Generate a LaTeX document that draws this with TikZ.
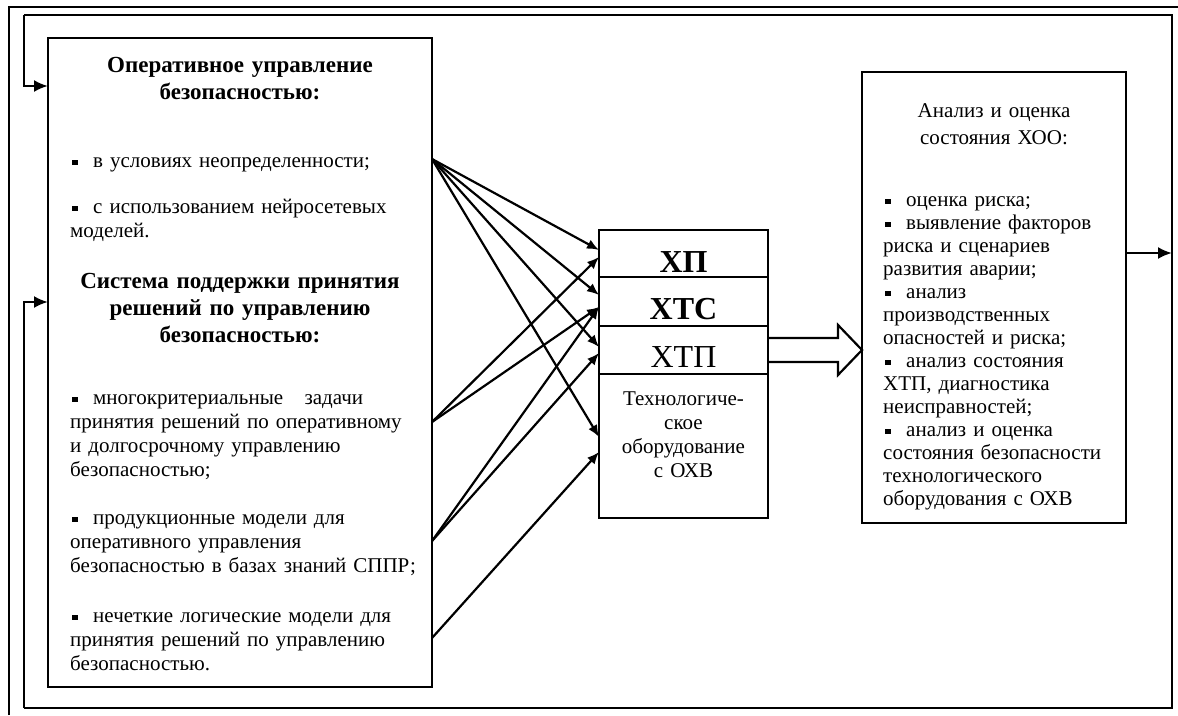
\documentclass[tikz,border=0pt]{standalone}
\usepackage{fontspec}
\setmainfont{Liberation Serif}
\usetikzlibrary{arrows.meta,positioning,calc}
\newcommand{\sq}{\hspace*{2pt}\rule[2pt]{5.5pt}{5.5pt}\hspace*{15.5pt}}

\begin{document}
\begin{tikzpicture}[x=1pt,y=-1pt,>={Latex[length=14pt,width=12pt]},
	box/.style={draw, line width=2.2pt, inner sep=0pt, outer sep=0pt},
	ln/.style={line width=2.2pt},
	ar/.style={line width=2.2pt, -{Latex[length=12pt,width=10pt]}},
	hd/.style={font=\fontsize{23}{27}\selectfont\bfseries, align=center, text width=380pt, inner sep=0pt, anchor=base},
	tx/.style={font=\fontsize{21}{24}\selectfont, align=left, text width=355pt, inner sep=0pt, anchor=base west},
	rtx/.style={font=\fontsize{21}{23}\selectfont, align=left, text width=240pt, inner sep=0pt, anchor=base west},
	big/.style={font=\fontsize{32}{34}\selectfont, inner sep=0pt, anchor=base}]
	\useasboundingbox (0,0) rectangle (1178,715);
	\draw[line width=2.8pt] (9,715) -- (9,7) -- (1178,7);

	% boxes
	\node[box, minimum width=384pt, minimum height=649pt, anchor=north west] (lb) at (48,38) {};
	\node[box, minimum width=264pt, minimum height=451pt, anchor=north west] (an) at (862,72) {};
	\node[box, minimum width=169pt, minimum height=47pt, anchor=north west] (xp) at (599,230) {};
	\node[box, minimum width=169pt, minimum height=49pt, below=0pt of xp] (xts) {};
	\node[box, minimum width=169pt, minimum height=48pt, below=0pt of xts] (xtp) {};
	\node[box, minimum width=169pt, minimum height=144pt, below=0pt of xtp] (eq) {};

	% left box text
	\node[hd] (h1) at (240,72) {Оперативное управление\\безопасностью:};
	\node[tx] (b1) at (70,167) {\sq в условиях неопределенности;};
	\node[tx] (b2) at (70,213) {\sq с использованием нейросетевых\\моделей.};
	\node[hd] (h2) at (240,288) {Система поддержки принятия\\решений по управлению\\безопасностью:};
	\node[tx] (b3) at (70,404) {\makebox[293pt][l]{\sq многокритериальные\hfill задачи}\\
		\makebox[340pt][s]{принятия решений по оперативному}\\
		\makebox[285pt][s]{и долгосрочному управлению}\\безопасностью;};
	\node[tx] (b4) at (70,524) {\sq продукционные модели для\\оперативного управления\\безопасностью в базах знаний СППР;};
	\node[tx] (b5) at (70,622) {\sq нечеткие логические модели для\\принятия решений по управлению\\безопасностью.};

	% middle box text
	\node[big] (t1) at (683.5,272) {\textbf{ХП}};
	\node[big] (t2) at (683.5,319) {\textbf{ХТС}};
	\node[big] (t3) at (683.5,367) {ХТП};
	\node[font=\fontsize{21}{24.3}\selectfont, align=center, text width=160pt, inner sep=0pt, anchor=base] (t4) at (683.5,405) {Технологиче-\\ское\\оборудование\\с ОХВ};

	% right box text
	\node[font=\fontsize{21}{27}\selectfont, align=center, text width=250pt, inner sep=0pt, anchor=base] (ah) at (994,117) {Анализ и оценка\\состояния ХОО:};
	\node[rtx] (ab) at (883,206) {\sq оценка риска;\\\sq выявление факторов\\риска и сценариев\\развития аварии;\\\sq анализ\\производственных\\опасностей и риска;\\\sq анализ состояния\\ХТП, диагностика\\неисправностей;\\\sq анализ и оценка\\состояния безопасности\\технологического\\оборудования с ОХВ};

	% arrows to the equipment
	\coordinate (s1) at (432,159);
	\coordinate (s2) at (432,422);
	\coordinate (s3) at (432,541);
	\coordinate (s4) at (432,638);
	\coordinate (xp1) at ([yshift=3.5pt]xp.west);
	\coordinate (xp2) at ([yshift=-3.5pt]xp.west);
	\coordinate (xts1) at ([yshift=6.5pt]xts.west);
	\coordinate (xts2) at ([yshift=-5.5pt]xts.west);
	\coordinate (xtp1) at ([yshift=3pt]xtp.west);
	\coordinate (xtp2) at ([yshift=-3pt]xtp.west);
	\coordinate (eq1) at ([yshift=9pt]eq.west);
	\coordinate (eq2) at ([yshift=-6pt]eq.west);
	\foreach \a/\b in {s1/xp1, s1/xts1, s1/xtp1, s1/eq1, s2/xp2, s2/xts2, s3/xts2, s3/xtp2, s4/eq2}
		\draw[ar] (\a) -- (\b);

	% hollow arrow
	\draw[ln] ($(xtp.east)+(0,-12)$) -- ++(70,0) -- ++(0,-13) -- (xtp.east -| an.west)
		-- ++(-24,25) -- ++(0,-13) -- ($(xtp.east)+(0,12)$);

	% feedback loop
	\coordinate (tl) at (24,15);
	\coordinate (tr) at (1172,15);
	\coordinate (br) at (1172,708);
	\coordinate (bl) at (24,708);
	\coordinate (fb) at (1172,253);
	\coordinate (in1) at (48,86);
	\coordinate (in2) at (48,302);
	\draw[ln] (tl) -- (tr) -- (br) -- (bl);
	\draw[ln,->] (an.east |- fb) -- (fb);
	\draw[ln,->] (tl) |- (in1);
	\draw[ln,->] (bl) |- (in2);
\end{tikzpicture}
\end{document}
